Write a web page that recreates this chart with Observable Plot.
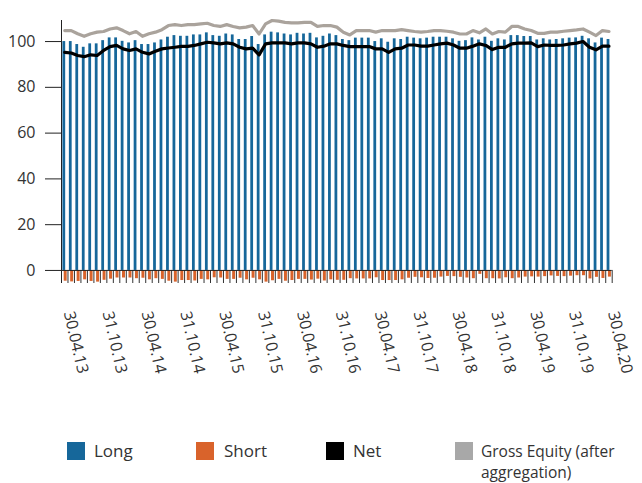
<!DOCTYPE html>
<html><head><meta charset="utf-8">
<script src="https://cdn.jsdelivr.net/npm/d3@7"></script>
<script src="https://cdn.jsdelivr.net/npm/@observablehq/plot@0.6"></script>
<style>
body{margin:0;background:#fff;font-family:"Open Sans",sans-serif;}
#wrap{position:relative;width:642px;height:483px;overflow:hidden;background:#fff;}
#chart{position:absolute;left:0;top:0;}
.sw{position:absolute;width:18px;height:18px;}
.lt{position:absolute;font-size:17px;color:#333;line-height:17px;white-space:nowrap;}
.lt2{position:absolute;font-size:15.5px;color:#333;line-height:20px;white-space:nowrap;}
</style></head><body><div id="wrap"><div id="chart"></div></div>
<script>
const longVals=[100.0,100.0,98.7,97.5,99.0,99.0,100.4,101.6,101.6,100.1,
99.4,100.4,98.7,98.7,99.4,100.7,101.9,102.6,102.3,102.3,
102.9,102.9,
103.8,102.6,102.3,103.3,102.9,100.9,100.9,102.2,98.7,102.9,
104.1,103.8,103.3,102.9,103.6,103.3,103.6,101.6,102.3,103.3,
102.6,100.9,100.4,101.5,101.5,101.5,100.0,101.2,99.7,101.2,
100.9,101.9,101.5,
101.2,101.5,101.9,101.9,101.9,101.2,100.1,100.4,101.6,100.7,
101.9,100.1,101.2,100.7,102.6,102.6,102.2,102.2,100.7,101.2,
100.7,100.9,101.2,101.5,101.6,102.3,101.2,99.4,101.5,100.9];
const shortVals=[-4.7,-5.0,-4.8,-4.1,-4.8,-5.1,-4.3,-3.8,-3.3,-3.3,
-3.3,-3.6,-3.4,-4.1,-3.6,-3.9,-4.7,-5.1,-4.4,-4.4,
-4.6,-3.9,
-4.1,-3.2,-3.3,-3.9,-3.9,-3.4,-4.1,-3.4,-4.1,-5.1,
-4.5,-3.9,-4.7,-4.4,-3.9,-3.9,-4.2,-3.8,-4.6,-4.1,
-4.3,-4.3,-3.6,-3.7,-3.7,-3.7,-3.2,-4.4,-4.4,-4.4,
-4.1,-3.4,-3.0,
-3.2,-3.5,-3.4,-2.9,-2.6,-2.7,-3.0,-3.3,-3.6,-1.7,
-3.6,-3.6,-3.7,-3.2,-3.6,-3.3,-2.9,-2.8,-2.9,-2.7,
-2.4,-2.6,-2.7,-2.5,-2.3,-2.3,-3.7,-3.0,-3.5,-2.9];
const netVals=[95.3,95.0,93.9,93.4,94.2,93.9,96.1,97.8,98.3,96.8,
96.1,96.8,95.3,94.6,95.8,96.8,97.2,97.5,97.9,97.9,
98.3,99.0,
99.7,99.4,99.0,99.4,99.0,97.5,96.8,97.1,94.2,99.0,
99.4,99.4,99.4,99.0,99.4,99.4,99.0,97.5,98.0,99.0,
99.0,98.3,97.8,97.8,97.8,97.8,96.8,96.8,95.3,96.8,
97.1,98.5,98.5,
98.0,98.0,98.5,99.0,99.3,98.5,97.1,97.1,98.0,99.0,
98.3,96.5,97.5,97.5,99.0,99.3,99.3,99.4,97.8,98.5,
98.3,98.3,98.5,99.0,99.3,100.0,97.5,96.4,98.0,98.0];
const grossVals=[104.8,104.8,103.4,102.3,103.4,104.1,104.4,105.5,106.0,104.8,
103.4,104.4,102.3,103.4,104.1,105.2,107.0,107.4,107.0,107.4,
107.4,107.7,
108.0,107.0,106.6,107.4,106.6,106.0,106.3,107.0,103.3,107.7,
109.2,108.9,108.4,108.2,108.2,108.4,108.4,106.6,107.0,107.0,
106.3,104.1,102.9,104.8,104.8,104.8,104.1,104.8,104.8,104.8,
105.2,104.8,104.4,
104.1,104.4,104.8,104.8,104.5,104.1,103.3,103.3,104.8,103.8,
105.5,103.3,104.4,104.1,106.6,106.6,105.5,104.8,103.6,103.6,
104.1,104.1,104.5,104.8,105.1,105.5,104.1,102.6,104.8,104.4];
const xTickLabels=["30.04.13","31.10.13","30.04.14","31.10.14","30.04.15","31.10.15","30.04.16","31.10.16","30.04.17","31.10.17","30.04.18","31.10.18","30.04.19","31.10.19","30.04.20"];
const yTicks=[0,20,40,60,80,100];
const seriesNames=["Long","Short","Net","Gross Equity (after aggregation)"];
const seriesColors=["#16679a","#d9632b","#000000","#a8a8a8"];

const fmt=d3.utcFormat("%d.%m.%y");
const months=d3.utcMonths(new Date(Date.UTC(2013,4,1)),new Date(Date.UTC(2020,5,1))).map(d=>fmt(d3.utcDay.offset(d,-1)));
const data=months.map((m,i)=>({m,long:longVals[i],short:shortVals[i],net:netVals[i],gross:grossVals[i]}));

const W=642,H=400,ML=61,MR=30.3,Y_MIN=-5.7,Y_MAX=109.2;
const bw=(W-ML-MR)/months.length;

const chart=Plot.plot({
  width:W,height:H,marginLeft:ML,marginRight:MR,marginTop:20,marginBottom:117,
  style:{fontFamily:"Open Sans",fontSize:"16px",color:"#333",background:"white"},
  x:{type:"band",domain:months,padding:0,label:null},
  y:{domain:[Y_MIN,Y_MAX],label:null},
  marks:[
    Plot.barY(data,{x:"m",y:"long",fill:seriesColors[0],insetLeft:1.4,insetRight:2.3}),
    Plot.barY(data,{x:"m",y:"short",fill:seriesColors[1],insetLeft:2.7,insetRight:0.8}),
    Plot.ruleX(months,{x:d=>d,y1:0,y2:Y_MIN,dx:-bw/2,stroke:"#333",strokeWidth:1}),
    Plot.ruleX([months[months.length-1]],{x:d=>d,y1:0,y2:Y_MIN,dx:bw/2,stroke:"#333"}),
    Plot.ruleX([months[0]],{x:d=>d,y1:Y_MIN,y2:Y_MAX,dx:-bw/2,stroke:"#222"}),
    Plot.ruleY([0],{stroke:"#222"}),
    Plot.lineY(data,{x:"m",y:"gross",stroke:"#aaa39c",strokeWidth:3.2}),
    Plot.lineY(data,{x:"m",y:"net",stroke:seriesColors[2],strokeWidth:3.2}),
    Plot.axisY(yTicks,{tickSize:16,tickPadding:10,fontSize:16,stroke:"#222",label:null}),
    Plot.axisX(xTickLabels,{tickSize:0,tickPadding:28,tickRotate:77,fontSize:16,dx:4,label:null})
  ]
});
document.getElementById("chart").appendChild(chart);

const wrap=document.getElementById("wrap");
const swX=[67,196,326,455], txX=[94,224,353,481];
seriesNames.forEach((n,i)=>{
  const s=document.createElement("div");s.className="sw";
  s.style.left=swX[i]+"px";s.style.top="442px";s.style.background=seriesColors[i];
  wrap.appendChild(s);
  if(i===3){
    ["Gross Equity (after","aggregation)"].forEach((line,k)=>{
      const t=document.createElement("div");t.className="lt2";
      t.style.left=txX[i]+"px";t.style.top=(441+k*21)+"px";t.textContent=line;
      wrap.appendChild(t);
    });
  } else {
    const t=document.createElement("div");t.className="lt";
    t.style.left=txX[i]+"px";t.style.top="442px";t.textContent=n;
    wrap.appendChild(t);
  }
});
</script></body></html>
